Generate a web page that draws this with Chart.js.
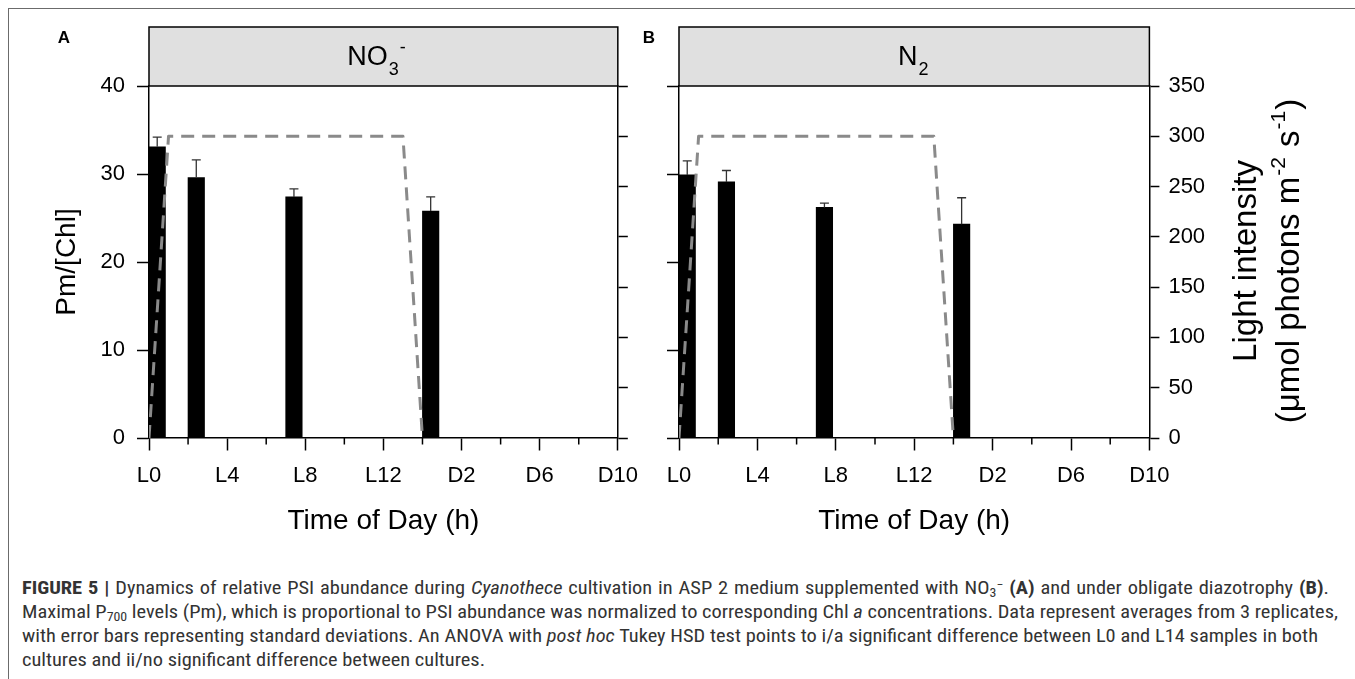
<!DOCTYPE html>
<html>
<head>
<meta charset="utf-8">
<title>PSI abundance – Cyanothece</title>
<script src="https://cdn.jsdelivr.net/npm/chart.js@4.4.1/dist/chart.umd.min.js"></script>
<style>
  html, body { margin: 0; padding: 0; background: #fff; }
  body { width: 1355px; height: 679px; position: relative; overflow: hidden;
         font-family: "Liberation Sans", Arial, sans-serif; }
  #frame { position: absolute; left: 8px; top: 8px; width: 1400px; height: 700px;
           border-left: 1px solid #6b6b6b; border-top: 1px solid #6b6b6b; }
  canvas { position: absolute; top: 0; }
  #panelA { left: 0; }
  #panelB { left: 630px; }
  #caption { position: absolute; left: 22px; top: 576px; color: #333;
             font-family: "Liberation Sans Narrow", "Roboto Condensed", "Liberation Sans", sans-serif;
             font-size: 18px; line-height: 24px; transform-origin: 0 0; }
  #caption div { white-space: nowrap; }
  #caption span.line { display: inline-block; }
  #caption sub, #caption sup { font-size: 68%; line-height: 0; }
  #caption sub { vertical-align: -0.25em; }
  #caption sup { vertical-align: 0.45em; }
</style>
</head>
<body>
<div id="frame"></div>
<canvas id="panelA" width="650" height="545"></canvas>
<canvas id="panelB" width="725" height="545"></canvas>
<div id="caption">
  <div><span class="line" data-end="1329"><b>FIGURE 5 |</b> Dynamics of relative PSI abundance during <i>Cyanothece</i> cultivation in ASP 2 medium supplemented with NO<sub>3</sub><sup>−</sup> <b>(A)</b> and under obligate diazotrophy <b>(B)</b>.</span></div>
  <div><span class="line" id="capRef" data-end="1338">Maximal P<sub>700</sub> levels (Pm), which is proportional to PSI abundance was normalized to corresponding Chl <i>a</i> concentrations. Data represent averages from 3 replicates,</span></div>
  <div><span class="line" data-end="1318">with error bars representing standard deviations. An ANOVA with <i>post hoc</i> Tukey HSD test points to i/a significant difference between L0 and L14 samples in both</span></div>
  <div><span class="line">cultures and ii/no significant difference between cultures.</span></div>
</div>
<script>
// Sampling times, hours after light onset
const sampleHours = [0, 2, 7, 14];

// Pm/[Chl] means and standard deviations, NO3- medium
const pmNitrate = [33.1, 29.6, 27.4, 25.8];
const sdNitrate = [1.1, 2.0, 0.9, 1.6];

// Pm/[Chl] means and standard deviations, N2 (diazotrophic)
const pmDiazo = [29.9, 29.1, 26.2, 24.3];
const sdDiazo = [1.6, 1.3, 0.5, 3.0];

// Light regime, µmol photons m-2 s-1
const lightHours = [0, 1, 13, 14, 24];
const lightValues = [0, 300, 300, 0, 0];

// Time axis labels
const tickHours = [0, 4, 8, 12, 16, 20, 24];
const tickLabels = ['L0', 'L4', 'L8', 'L12', 'D2', 'D6', 'D10'];

const FONT = '"Liberation Sans", Arial, sans-serif';
Chart.defaults.font.family = FONT;
Chart.defaults.color = '#000';

const BAR_PX = 16.5;        // bar thickness
const BAR_SHIFT_H = 0.42;   // bars start at the sampling time

// Header strip, error bars, minor ticks, panel letter, right-hand title
const panelDecor = {
  id: 'panelDecor',
  afterDatasetDraw(chart, args, opts) {
    if (args.index !== 0) return;
    const ctx = chart.ctx;
    const ds = chart.data.datasets[0];
    const meta = chart.getDatasetMeta(0);
    const ys = chart.scales.y;
    ctx.save();
    ctx.strokeStyle = '#333';
    ctx.lineWidth = 1.3;
    meta.data.forEach((bar, i) => {
      const top = ys.getPixelForValue(ds.data[i].y + ds.errors[i]);
      ctx.beginPath();
      ctx.moveTo(bar.x, bar.y);
      ctx.lineTo(bar.x, top);
      ctx.moveTo(bar.x - 4.5, top);
      ctx.lineTo(bar.x + 4.5, top);
      ctx.stroke();
    });
    ctx.restore();
  },
  afterDraw(chart, args, opts) {
    const ctx = chart.ctx;
    const a = chart.chartArea;
    const xs = chart.scales.x;
    ctx.save();

    // minor ticks on the time axis
    ctx.strokeStyle = '#000';
    ctx.lineWidth = 1.5;
    xs.ticks.forEach(t => {
      if (tickHours.includes(t.value)) return;
      const px = xs.getPixelForValue(t.value);
      ctx.beginPath();
      ctx.moveTo(px, a.bottom);
      ctx.lineTo(px, a.bottom + 6.5);
      ctx.stroke();
    });

    // header strip
    ctx.fillStyle = '#e0e0e0';
    ctx.fillRect(a.left, 27, a.right - a.left, a.top - 27);
    ctx.strokeRect(a.left, 27, a.right - a.left, a.top - 27);

    // header text: main part, subscript, then superscript after it
    const cx = (a.left + a.right) / 2 + opts.headerShift;
    ctx.fillStyle = '#000';
    ctx.textBaseline = 'alphabetic';
    ctx.textAlign = 'left';
    const big = '27px ' + FONT, small = '18px ' + FONT;
    ctx.font = big;
    const wMain = ctx.measureText(opts.headerMain).width;
    ctx.font = small;
    const wSub = ctx.measureText(opts.headerSub).width;
    const wSup = opts.headerSup ? ctx.measureText(opts.headerSup).width + 1 : 0;
    const x0 = cx - (wMain + 1 + wSub + wSup) / 2;
    const base = 65;
    ctx.font = big;
    ctx.fillText(opts.headerMain, x0, base);
    ctx.font = small;
    ctx.fillText(opts.headerSub, x0 + wMain + 1, base + 10);
    if (opts.headerSup) ctx.fillText(opts.headerSup, x0 + wMain + 2 + wSub, base - 12);

    // panel letter
    ctx.font = 'bold 17px ' + FONT;
    ctx.textAlign = 'center';
    ctx.textBaseline = 'middle';
    ctx.fillText(opts.letter, opts.letterX, 38);

    // right-hand axis title, read bottom to top
    if (opts.rightTitle) {
      ctx.translate(opts.rightTitleX, (a.top + a.bottom) / 2 - 1);
      ctx.rotate(-Math.PI / 2);
      ctx.font = '33px ' + FONT;
      ctx.fillText('Light intensity', 0, 0);
      // second line: (µmol photons m-2 s-1)
      const parts = [
        ['(\u03bcmol photons m', false], ['-2', true], [' s', false], ['-1', true], [')', false]
      ];
      const f1 = '33px ' + FONT, f2 = '21px ' + FONT;
      let w = 0;
      parts.forEach(p => { ctx.font = p[1] ? f2 : f1; w += ctx.measureText(p[0]).width + (p[1] ? 2 : 0); });
      let px = -w / 2;
      ctx.textAlign = 'left';
      ctx.textBaseline = 'alphabetic';
      parts.forEach(p => {
        ctx.font = p[1] ? f2 : f1;
        ctx.fillText(p[0], px + (p[1] ? 1 : 0), opts.rightLineGap + 12 + (p[1] ? -14 : 0));
        px += ctx.measureText(p[0]).width + (p[1] ? 2 : 0);
      });
    }
    ctx.restore();
  }
};

function buildPanel(id, cfg) {
  return new Chart(document.getElementById(id), {
    type: 'bar',
    data: {
      datasets: [
        {
          type: 'bar',
          label: 'Pm/[Chl]',
          data: sampleHours.map((h, i) => ({ x: h + BAR_SHIFT_H, y: cfg.pm[i] })),
          errors: cfg.sd,
          backgroundColor: '#000',
          borderWidth: 0,
          barThickness: BAR_PX,
          xAxisID: 'x',
          yAxisID: 'y',
          order: 2
        },
        {
          type: 'line',
          label: 'Light intensity',
          data: lightHours.map((h, i) => ({ x: h, y: lightValues[i] })),
          borderColor: '#8a8a8a',
          borderWidth: 3,
          borderDash: [13, 8],
          borderJoinStyle: 'round',
          pointRadius: 0,
          tension: 0,
          fill: false,
          // the dark period runs along the axis line and stays hidden under it
          segment: {
            borderColor: c => (c.p0.parsed.y === 0 && c.p1.parsed.y === 0) ? 'rgba(0,0,0,0)' : undefined
          },
          xAxisID: 'x',
          yAxisID: 'y2',
          order: 1
        }
      ]
    },
    options: {
      responsive: false,
      animation: false,
      events: [],
      layout: { padding: { top: 86, left: 0, right: 0, bottom: 0 } },
      plugins: {
        legend: { display: false },
        tooltip: { enabled: false },
        panelDecor: cfg.decor
      },
      scales: {
        x: {
          type: 'linear', min: 0, max: 24, offset: false, z: 1,
          afterFit: s => { s.height = 107; },
          ticks: {
            stepSize: 2, autoSkip: false, maxRotation: 0, padding: 12,
            font: { size: 22 }, color: '#000',
            callback: v => { const i = tickHours.indexOf(v); return i < 0 ? '' : tickLabels[i]; }
          },
          grid: {
            drawOnChartArea: false, offset: false, tickLength: 12.5, tickWidth: 1.5,
            tickColor: c => (c.tick && tickHours.includes(c.tick.value)) ? '#000' : 'rgba(0,0,0,0)'
          },
          border: { display: true, color: '#000', width: 1.5 },
          title: { display: true, text: 'Time of Day (h)', font: { size: 28 }, color: '#000',
                   padding: { top: 0, bottom: 7 } }
        },
        y: {
          position: 'left', min: 0, max: 40,
          afterFit: s => { s.width = cfg.leftWidth; },
          ticks: { stepSize: 10, display: cfg.leftLabels, padding: 12, font: { size: 22 }, color: '#000' },
          grid: { drawOnChartArea: false, tickLength: 12, tickWidth: 1.5, tickColor: '#000' },
          border: { display: true, color: '#000', width: 1.5 },
          title: { display: cfg.leftLabels, text: 'Pm/[Chl]', font: { size: 28 }, color: '#000',
                   padding: { top: 50, bottom: 0 } }
        },
        y2: {
          position: 'right', min: 0, max: 350,
          afterFit: s => { s.width = cfg.rightWidth; },
          ticks: { stepSize: 50, display: cfg.rightLabels, padding: 9, font: { size: 22 }, color: '#000' },
          grid: { drawOnChartArea: false, tickLength: 10, tickWidth: 1.5, tickColor: '#000' },
          border: { display: true, color: '#000', width: 1.5 }
        }
      }
    },
    plugins: [panelDecor]
  });
}

buildPanel('panelA', {
  pm: pmNitrate, sd: sdNitrate,
  leftWidth: 149, rightWidth: 650 - 619.6,
  leftLabels: true, rightLabels: false,
  decor: { headerMain: 'NO', headerSub: '3', headerSup: '-', headerShift: -7,
           letter: 'A', letterX: 64, rightTitle: false }
});

buildPanel('panelB', {
  pm: pmDiazo, sd: sdDiazo,
  leftWidth: 679 - 630, rightWidth: 725 - (1149.4 - 630),
  leftLabels: false, rightLabels: true,
  decor: { headerMain: 'N', headerSub: '2', headerSup: '', headerShift: -1,
           letter: 'B', letterX: 649 - 630, rightTitle: true,
           rightTitleX: 1247 - 630, rightLineGap: 40 }
});

// caption: horizontal scale from the second line, then per-line word spacing
(function () {
  const cap = document.getElementById('caption');
  const left = 22;
  const ref = document.getElementById('capRef');
  const k = (Number(ref.dataset.end) - left) / ref.getBoundingClientRect().width;
  cap.style.transform = 'scaleX(' + k.toFixed(4) + ')';
  cap.querySelectorAll('span.line').forEach(el => {
    if (!el.dataset.end) return;
    const want = (Number(el.dataset.end) - left) / k;
    const have = el.getBoundingClientRect().width / k;
    const gaps = (el.textContent.match(/ /g) || []).length;
    if (gaps) el.style.wordSpacing = ((want - have) / gaps).toFixed(3) + 'px';
  });
})();
</script>
</body>
</html>
